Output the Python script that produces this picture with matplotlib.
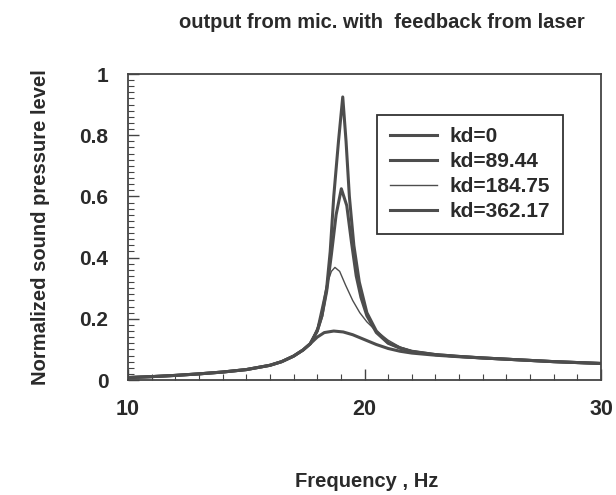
import matplotlib
matplotlib.use("Agg")
from matplotlib import pyplot as plt
from matplotlib.ticker import MultipleLocator

plt.rcParams['font.family'] = ['Liberation Sans', 'DejaVu Sans']
plt.rcParams['font.weight'] = 'bold'

# readings (frequency in Hz, normalized level)
f0 = [10, 11, 12, 13, 14, 15, 16, 16.5, 17, 17.4, 17.7, 18.0, 18.2, 18.4, 18.55, 18.7, 18.9, 19.08,
      19.22, 19.36, 19.55, 19.78, 20.1, 20.5, 21.0, 21.5, 22, 23, 24, 25, 26, 27, 28, 29, 30]
kd0 = [0.008, 0.011, 0.015, 0.02, 0.026, 0.034, 0.048, 0.06, 0.078, 0.098, 0.118, 0.16, 0.21, 0.3, 0.42,
       0.6, 0.78, 0.925, 0.78, 0.6, 0.44, 0.32, 0.22, 0.16, 0.122, 0.105, 0.094, 0.083, 0.077, 0.072,
       0.068, 0.064, 0.06, 0.057, 0.054]

f1 = [10, 11, 12, 13, 14, 15, 16, 16.5, 17, 17.4, 17.7, 18.0, 18.2, 18.4, 18.6, 18.8, 19.02,
      19.25, 19.45, 19.65, 19.85, 20.1, 20.5, 21.0, 21.5, 22, 23, 24, 25, 26, 27, 28, 29, 30]
kd89 = [0.008, 0.011, 0.015, 0.02, 0.026, 0.034, 0.048, 0.06, 0.078, 0.098, 0.118, 0.16, 0.21, 0.29, 0.41,
        0.54, 0.625, 0.57, 0.45, 0.34, 0.27, 0.21, 0.155, 0.12, 0.104, 0.093, 0.083, 0.077, 0.072,
        0.068, 0.064, 0.06, 0.057, 0.054]

f2 = [10, 11, 12, 13, 14, 15, 16, 16.5, 17, 17.4, 17.7, 18.0, 18.2, 18.4, 18.6, 18.75, 18.95,
      19.2, 19.5, 19.8, 20.1, 20.5, 21.0, 21.5, 22, 23, 24, 25, 26, 27, 28, 29, 30]
kd184 = [0.008, 0.011, 0.015, 0.02, 0.026, 0.034, 0.048, 0.06, 0.078, 0.098, 0.12, 0.17, 0.24, 0.31, 0.355,
         0.368, 0.355, 0.31, 0.26, 0.22, 0.19, 0.16, 0.13, 0.108, 0.095, 0.084, 0.077, 0.072,
         0.068, 0.064, 0.06, 0.057, 0.054]

f3 = [10, 11, 12, 13, 14, 15, 16, 16.5, 17, 17.4, 17.7, 18.0, 18.3, 18.7, 19.1, 19.5, 20.0,
      20.5, 21.0, 21.5, 22, 23, 24, 25, 26, 27, 28, 29, 30]
kd362 = [0.008, 0.011, 0.015, 0.02, 0.026, 0.034, 0.048, 0.06, 0.078, 0.098, 0.118, 0.14, 0.155, 0.16,
         0.157, 0.148, 0.132, 0.116, 0.103, 0.094, 0.088, 0.081, 0.076, 0.072, 0.068, 0.064,
         0.06, 0.057, 0.054]

labels = ['kd=0', 'kd=89.44', 'kd=184.75', 'kd=362.17']
widths = [2.2, 2.2, 1.0, 2.2]
col = '#4d4d4d'
tcol = '#2a2a2a'

fig = plt.figure(figsize=(6.16, 4.95), dpi=100)
ax = fig.add_axes([128 / 616, 1 - 380 / 495, (601 - 128) / 616, (380 - 74) / 495])

for xs, ys, lab, lw in zip([f0, f1, f2, f3], [kd0, kd89, kd184, kd362], labels, widths):
    ax.plot(xs, ys, color=col, lw=lw, label=lab)

ax.set_xlim(10, 30)
ax.set_ylim(0, 1)
ax.set_xticks([10, 20, 30])
ax.xaxis.set_minor_locator(MultipleLocator(1))
ax.set_yticks([0, 0.2, 0.4, 0.6, 0.8, 1])
ax.set_yticklabels(['0', '0.2', '0.4', '0.6', '0.8', '1'])
ax.yaxis.set_minor_locator(MultipleLocator(0.02))
ax.tick_params(which='major', direction='in', length=8, width=1, color='#444444',
               top=False, right=False, labelcolor=tcol)
ax.tick_params(axis='x', which='major', labelsize=15.5, pad=14)
ax.tick_params(axis='y', which='major', labelsize=15, pad=14)
ax.tick_params(which='minor', direction='in', length=4, width=0.8, color='#444444',
               top=False, right=False)
for s in ax.spines.values():
    s.set_color('#444444')
    s.set_linewidth(1.3)

fig.text(382 / 616, 1 - 22 / 495, 'output from mic. with  feedback from laser', fontsize=14.5,
         fontweight='bold', color=tcol, ha='center', va='center')
ax.set_xlabel('Frequency , Hz', fontsize=14.5, fontweight='bold', color=tcol)
ax.xaxis.set_label_coords((367 - 128) / 473, (380 - 472) / 306)
ax.set_ylabel('Normalized sound pressure level', fontsize=14.5, fontweight='bold', color=tcol)
ax.yaxis.set_label_coords((50 - 128) / 473, 0.5)

leg = ax.legend(loc='upper left', bbox_to_anchor=((377 - 128) / 473, 1 - (115 - 74) / 306),
                fancybox=False, framealpha=1, edgecolor='#333333', fontsize=15,
                handlelength=2.3, handletextpad=0.6, borderpad=0.6, labelspacing=0.28,
                borderaxespad=0)
leg.get_frame().set_linewidth(1.3)
for t in leg.get_texts():
    t.set_color(tcol)

fig.savefig('out.png', dpi=100)
